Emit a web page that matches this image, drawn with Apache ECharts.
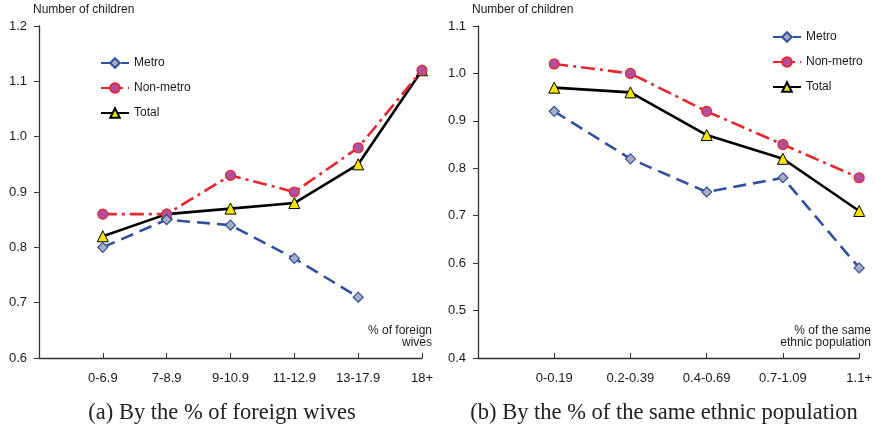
<!DOCTYPE html>
<html><head><meta charset="utf-8">
<script src="https://cdn.jsdelivr.net/npm/echarts@6/dist/echarts.min.js"></script>
<style>html,body{margin:0;padding:0;background:#fff}#c{width:875px;height:433px}</style>
</head><body><div id="c"></div>
<script>
// Panel (a): by % of foreign wives
const catsA = ['', '0-6.9', '7-8.9', '9-10.9', '11-12.9', '13-17.9', '18+'];
const metroA = [null, 0.80, 0.85, 0.84, 0.78, 0.71, null];
const nonMetroA = [null, 0.86, 0.86, 0.93, 0.90, 0.98, 1.12];
const totalA = [null, 0.82, 0.86, 0.87, 0.88, 0.95, 1.12];
// Panel (b): by % of the same ethnic population
const catsB = ['', '0-0.19', '0.2-0.39', '0.4-0.69', '0.7-1.09', '1.1+'];
const metroB = [null, 0.92, 0.82, 0.75, 0.78, 0.59];
const nonMetroB = [null, 1.02, 1.00, 0.92, 0.85, 0.78];
const totalB = [null, 0.97, 0.96, 0.87, 0.82, 0.71];
const seriesNames = ['Metro', 'Non-metro', 'Total'];
const captionA = '(a) By the % of foreign wives';
const captionB = '(b) By the % of the same ethnic population';

const FONT = 'Liberation Sans, Arial, sans-serif';
const TXT = '#1a1a1a';
const styles = [
  {color:'#2f4fa3', type:[13,7], symbol:'diamond', size:10, fill:'#a9adbf'},
  {color:'#e8262b', type:[14,5,3,5], symbol:'circle', size:10, fill:'#b04f9e'},
  {color:'#000000', type:'solid', symbol:'triangle', size:11, fill:'#f2e600'}
];
function mkSeries(data, i, axis){
  const s = styles[i];
  return {
    name: seriesNames[i], type:'line', xAxisIndex:axis, yAxisIndex:axis,
    data: data, connectNulls:false, symbol:s.symbol, symbolSize:s.size, showSymbol:true,
    lineStyle:{color:s.color, width:2.6, type:s.type},
    itemStyle:{color:s.fill, borderColor: i===2 ? '#000' : s.color, borderWidth: i===2?1:1.2},
    z: 3 + (2 - i)
  };
}
function xAx(cats, idx){
  return {type:'category', gridIndex:idx, data:cats, boundaryGap:false,
    axisLine:{lineStyle:{color:'#333', width:1.3}},
    axisTick:{inside:true, length:5, lineStyle:{color:'#333'}},
    axisLabel:{color:TXT, fontSize:13, fontFamily:FONT, margin:14, interval:0}};
}
function yAx(min, max, idx){
  return {type:'value', gridIndex:idx, min:min, max:max, interval:0.1,
    name:'Number of children', nameLocation:'end', nameGap:10,
    nameTextStyle:{color:TXT, fontSize:12, fontFamily:FONT, align:'left', padding:[0,0,0,-6]},
    axisLine:{show:true, lineStyle:{color:'#333', width:1.3}},
    axisTick:{show:true, inside:false, length:5, lineStyle:{color:'#333'}},
    splitLine:{show:false},
    axisLabel:{color:TXT, fontSize:13, fontFamily:FONT, margin:12, formatter:v=>v.toFixed(1)}};
}
function legendAt(left, top){
  return {orient:'vertical', left:left, top:top, itemGap:13, itemWidth:28, itemHeight:12,
    data: seriesNames.map(n=>({name:n})),
    textStyle:{color:TXT, fontSize:12, fontFamily:FONT}};
}
const chart = echarts.init(document.getElementById('c'), null, {renderer:'canvas'});
chart.setOption({
  animation:false,
  grid:[{left:39, right:453, top:26, bottom:75},{left:478, right:14, top:26, bottom:75}],
  xAxis:[xAx(catsA,0), xAx(catsB,1)],
  yAxis:[yAx(0.6,1.2,0), yAx(0.4,1.1,1)],
  legend:[legendAt(95,52), legendAt(767,26)],
  series:[
    mkSeries(metroA,0,0), mkSeries(nonMetroA,1,0), mkSeries(totalA,2,0),
    mkSeries(metroB,0,1), mkSeries(nonMetroB,1,1), mkSeries(totalB,2,1)
  ],
  graphic:[
    {type:'text', right:443, top:325, style:{text:'% of foreign\nwives', fill:TXT, font:'12px '+FONT, textAlign:'right', lineHeight:12}},
    {type:'text', right:4, top:325, style:{text:'% of the same\nethnic population', fill:TXT, font:'12px '+FONT, textAlign:'right', lineHeight:12}},
    {type:'text', style:{x:222, y:413, text:captionA, fill:'#222', font:'22.5px Liberation Serif, Times New Roman, serif', textAlign:'center', textVerticalAlign:'middle'}},
    {type:'text', style:{x:664, y:413, text:captionB, fill:'#222', font:'22.5px Liberation Serif, Times New Roman, serif', textAlign:'center', textVerticalAlign:'middle'}}
  ]
});
</script></body></html>
